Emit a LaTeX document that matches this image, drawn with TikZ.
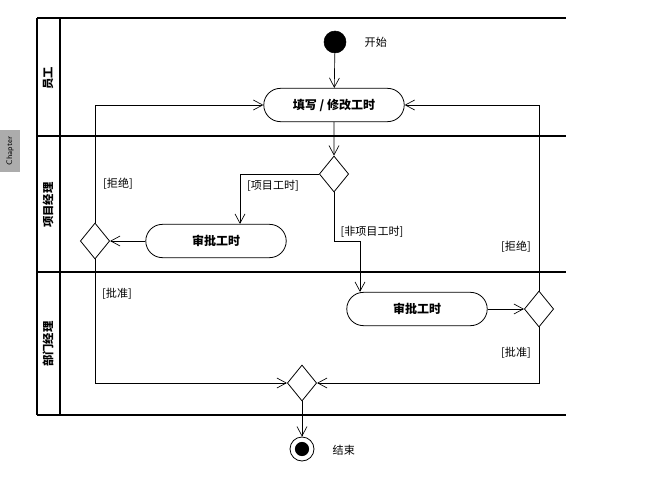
\documentclass[tikz,border=0pt]{standalone}
\usepackage{fontspec}
\newfontfamily\cjk{Noto Sans CJK SC}
\usetikzlibrary{shapes.geometric,shapes.misc,arrows.meta}

\tikzset{
  flow/.style={-{Straight Barb[length=7pt,width=7.5pt]},line width=0.5pt},
  activity/.style={draw,rounded rectangle,line width=0.6pt,minimum width=112pt,minimum height=25pt,font=\cjk\bfseries\fontsize{9}{11}\selectfont},
  choice/.style={draw,diamond,line width=0.6pt,inner sep=0pt,minimum width=22pt,minimum height=27pt},
  guard/.style={font=\cjk\fontsize{8.3}{10}\selectfont},
  lane/.style={rotate=90,font=\cjk\bfseries\fontsize{8.5}{10}\selectfont},
}

\begin{document}
\begin{tikzpicture}[x=0.75pt,y=-0.75pt]
\useasboundingbox (0,0) rectangle (660,478);

% page tab
\fill[gray!65] (0,130) rectangle (20,172);
\node[rotate=90,font=\sffamily\fontsize{6}{7}\selectfont] (tab) at (10,151) {Chapter};

% swimlanes
\draw[line width=1.1pt] (37,18)--(566,18);
\draw[line width=2.2pt] (37,136)--(566,136);
\draw[line width=2.2pt] (37,272)--(566,272);
\draw[line width=1.1pt] (37,415)--(566,415);
\draw[line width=1pt] (37,18)--(37,415);
\draw[line width=1pt] (60,18)--(60,415);
\node[lane] (l1) at (48,78) {员工};
\node[lane] (l2) at (48,205) {项目经理};
\node[lane] (l3) at (48,344) {部门经理};

% nodes
\node[draw,circle,fill=black,minimum size=16.5pt,inner sep=0pt] (start) at (335,42) {};
\node[guard,anchor=west] (startlbl) at (360,42) {开始};
\node[activity] (fill) at (334,105) {填写 / 修改工时};
\node[choice] (d1) at (334,174) {};
\node[activity] (pmact) at (216,241) {审批工时};
\node[choice] (d2) at (95,241) {};
\node[activity] (dmact) at (417,309) {审批工时};
\node[choice] (d3) at (539,309) {};
\node[choice] (merge) at (302,383) {};
\node[draw,circle,line width=0.6pt,minimum size=18pt,inner sep=0pt] (end) at (302,449) {};
\fill (end.center) circle (5.3pt);
\node[guard,anchor=west] (endlbl) at (328,450) {结束};
\coordinate (k1) at (334,241);

% connectors
\draw[flow] (start)--(fill);
\draw[flow] (fill)--(d1);
\draw[flow] (d1.west) -| ([xshift=18pt]pmact.north);
\draw[flow] (d1.south)--(k1) -| ([xshift=-42.75pt]dmact.north);
\draw[flow] (pmact.west)--(d2.east);
\draw[flow] (d2.north) |- (fill.west);
\draw[flow] (d2.south) |- (merge.west);
\draw[flow] (dmact.east)--(d3.west);
\draw[flow] (d3.north) |- (fill.east);
\draw[flow] (d3.south) |- (merge.east);
\draw[flow] (merge.south)--(end.north);

% guards
\node[guard] (g1) at (273,186) {[项目工时]};
\node[guard] (g2) at (372,232) {[非项目工时]};
\node[guard] (g3) at (118,184) {[拒绝]};
\node[guard] (g4) at (117,294) {[批准]};
\node[guard] (g5) at (516,247) {[拒绝]};
\node[guard] (g6) at (516,353) {[批准]};
\end{tikzpicture}
\end{document}
